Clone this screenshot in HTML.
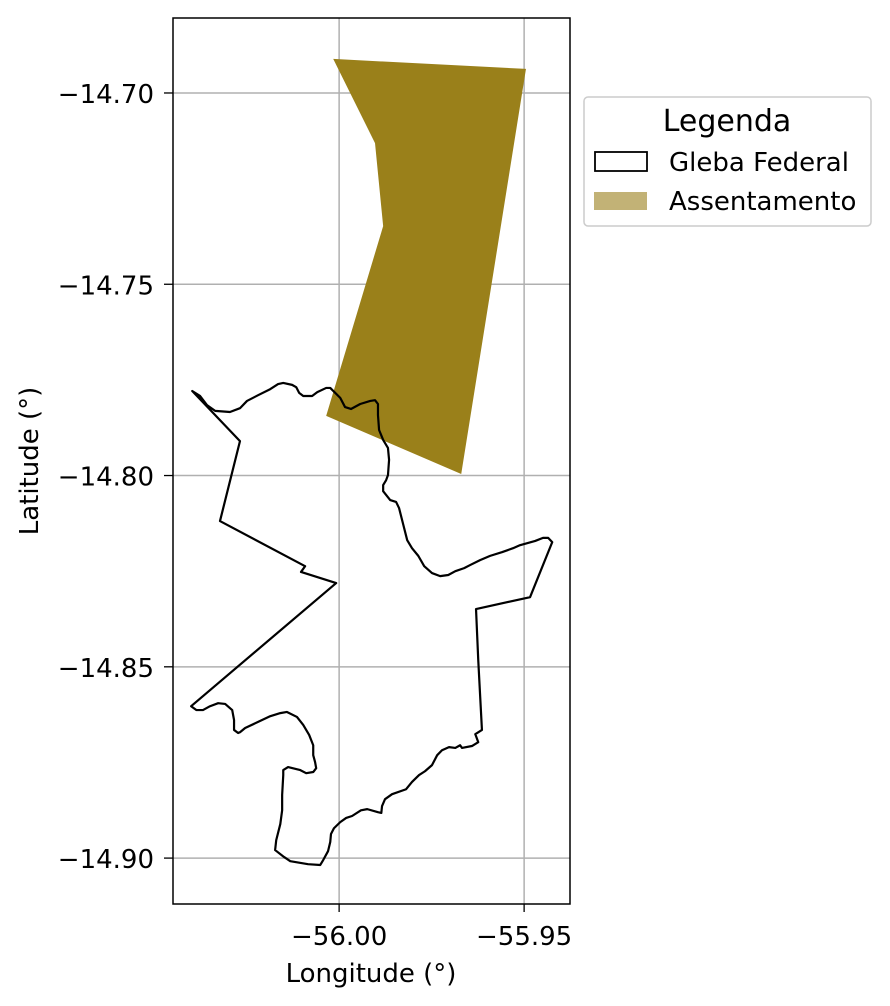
<!DOCTYPE html>
<html><head><meta charset="utf-8"><style>
body{margin:0;background:#fff;}
svg{display:block;font-family:"DejaVu Sans","Liberation Sans",sans-serif;}
</style></head><body>
<svg id="chart" width="890" height="1006" xmlns="http://www.w3.org/2000/svg"></svg>
<script>
const glebaLon=[-56.0397,-56.0376,-56.0357,-56.0335,-56.0295,-56.0268,-56.0249,-56.0219,-56.0186,-56.0165,-56.0151,-56.0127,-56.0116,-56.0108,-56.0097,-56.0073,-56.0059,-56.0035,-56.0024,-55.9997,-55.9984,-55.9968,-55.9943,-55.9916,-55.9903,-55.9895,-55.9895,-55.9892,-55.9881,-55.9868,-55.9865,-55.9868,-55.9873,-55.9881,-55.9881,-55.9862,-55.9846,-55.9838,-55.9827,-55.9816,-55.9803,-55.9786,-55.9770,-55.9749,-55.9727,-55.9705,-55.9686,-55.9662,-55.9646,-55.9619,-55.9592,-55.9559,-55.9530,-55.9511,-55.9470,-55.9449,-55.9435,-55.9424,-55.9484,-55.9630,-55.9624,-55.9614,-55.9632,-55.9624,-55.9641,-55.9668,-55.9673,-55.9686,-55.9703,-55.9722,-55.9735,-55.9749,-55.9768,-55.9784,-55.9803,-55.9819,-55.9857,-55.9876,-55.9884,-55.9886,-55.9895,-55.9924,-55.9941,-55.9965,-55.9981,-55.9997,-56.0014,-56.0022,-56.0024,-56.0030,-56.0043,-56.0051,-56.0084,-56.0132,-56.0149,-56.0173,-56.0170,-56.0159,-56.0154,-56.0154,-56.0151,-56.0151,-56.0138,-56.0105,-56.0089,-56.0070,-56.0062,-56.0065,-56.0070,-56.0070,-56.0081,-56.0097,-56.0114,-56.0141,-56.0159,-56.0186,-56.0219,-56.0254,-56.0268,-56.0273,-56.0284,-56.0284,-56.0289,-56.0308,-56.0327,-56.0349,-56.0368,-56.0386,-56.0400,-56.0008,-56.0103,-56.0092,-56.0322,-56.0268];
const glebaLat=[-14.7779,-14.7792,-14.7816,-14.7831,-14.7834,-14.7824,-14.7805,-14.7790,-14.7774,-14.7761,-14.7758,-14.7763,-14.7769,-14.7784,-14.7792,-14.7792,-14.7782,-14.7771,-14.7771,-14.7797,-14.7821,-14.7826,-14.7813,-14.7805,-14.7803,-14.7813,-14.7842,-14.7881,-14.7907,-14.7928,-14.7959,-14.7999,-14.8012,-14.8025,-14.8041,-14.8064,-14.8069,-14.8085,-14.8127,-14.8169,-14.8190,-14.8210,-14.8237,-14.8255,-14.8263,-14.8260,-14.8250,-14.8242,-14.8234,-14.8221,-14.8210,-14.8200,-14.8190,-14.8182,-14.8171,-14.8163,-14.8163,-14.8174,-14.8318,-14.8349,-14.8482,-14.8665,-14.8676,-14.8697,-14.8707,-14.8712,-14.8705,-14.8712,-14.8710,-14.8718,-14.8731,-14.8757,-14.8773,-14.8783,-14.8801,-14.8820,-14.8833,-14.8846,-14.8864,-14.8882,-14.8880,-14.8872,-14.8875,-14.8890,-14.8895,-14.8906,-14.8922,-14.8937,-14.8958,-14.8982,-14.9005,-14.9018,-14.9016,-14.9008,-14.8997,-14.8979,-14.8953,-14.8911,-14.8875,-14.8835,-14.8783,-14.8770,-14.8762,-14.8770,-14.8778,-14.8775,-14.8765,-14.8749,-14.8731,-14.8705,-14.8678,-14.8652,-14.8631,-14.8618,-14.8621,-14.8629,-14.8644,-14.8660,-14.8671,-14.8673,-14.8665,-14.8639,-14.8613,-14.8597,-14.8595,-14.8603,-14.8613,-14.8613,-14.8603,-14.8281,-14.8252,-14.8237,-14.8119,-14.7910];
const assentLon=[-56.0016,-55.9495,-55.9670,-56.0035,-55.9881,-55.9903];
const assentLat=[-14.6911,-14.6937,-14.7996,-14.7844,-14.7348,-14.7131];
const xTicks=[-56.00,-55.95];
const xTickLabels=["\u221256.00","\u221255.95"];
const yTicks=[-14.70,-14.75,-14.80,-14.85,-14.90];
const yTickLabels=["\u221214.70","\u221214.75","\u221214.80","\u221214.85","\u221214.90"];

const L=173,R=570,T=18,B=904;
const lonMin=-56.0449,lonMax=-55.9376,latMax=-14.6804,latMin=-14.9120;
const xs=v=>L+(v-lonMin)/(lonMax-lonMin)*(R-L);
const ys=v=>T+(latMax-v)/(latMax-latMin)*(B-T);
const svg=document.getElementById('chart');
const NS='http://www.w3.org/2000/svg';
function mk(tag,attrs,parent){const e=document.createElementNS(NS,tag);for(const k in attrs)e.setAttribute(k,attrs[k]);(parent||svg).appendChild(e);return e;}

xTicks.forEach((t,i)=>{
  const g=mk('line',{x1:xs(t),x2:xs(t),y1:T,y2:B,stroke:'#b0b0b0','stroke-width':1.5});
  
  
});
yTicks.forEach((t,i)=>{
  const g=mk('line',{x1:L,x2:R,y1:ys(t),y2:ys(t),stroke:'#b0b0b0','stroke-width':1.5});
  
  
});
const ap=mk('polygon',{points:assentLon.map((v,i)=>xs(v)+','+ys(assentLat[i])).join(' '),fill:'#9a801a'});


const gp=mk('polygon',{points:glebaLon.map((v,i)=>xs(v)+','+ys(glebaLat[i])).join(' '),fill:'none',stroke:'#000','stroke-width':2.2,'stroke-linejoin':'round'});


const fr=mk('rect',{x:L,y:T,width:R-L,height:B-T,fill:'none',stroke:'#000','stroke-width':1.5});


xTicks.forEach((t,i)=>{
  mk('line',{x1:xs(t),x2:xs(t),y1:B,y2:B+8,stroke:'#000','stroke-width':1.3});
  const tx=mk('text',{x:xs(t),y:B+41,'text-anchor':'middle','font-size':26});
  tx.textContent=xTickLabels[i];
  
  
});
yTicks.forEach((t,i)=>{
  mk('line',{x1:L-9,x2:L,y1:ys(t),y2:ys(t),stroke:'#000','stroke-width':1.3});
  const tx=mk('text',{x:L-19,y:ys(t)+10,'text-anchor':'end','font-size':26});
  tx.textContent=yTickLabels[i];
  
  
});
</script>
<svg style="position:absolute;left:0;top:0" width="890" height="1006" xmlns="http://www.w3.org/2000/svg" font-family="DejaVu Sans, Liberation Sans, sans-serif">
  <text x="371" y="982" text-anchor="middle" font-size="26">Longitude (°)</text>
  <text x="38" y="461" text-anchor="middle" font-size="26" transform="rotate(-90 38 461)">Latitude (°)</text>
  <g>
    <rect x="584" y="97" width="287" height="129" rx="4" fill="#fff" stroke="#ccc" stroke-width="1.5"/>
    <text x="727" y="131" text-anchor="middle" font-size="30">Legenda</text>
    <rect x="595" y="152" width="52" height="19" fill="none" stroke="#000" stroke-width="1.8"/>
    <text x="669" y="171" font-size="26">Gleba Federal</text>
    <rect x="594" y="192" width="53" height="18" fill="#c2b276"/>
    <text x="669" y="210" font-size="26">Assentamento</text>
  </g>
</svg>
</body></html>
